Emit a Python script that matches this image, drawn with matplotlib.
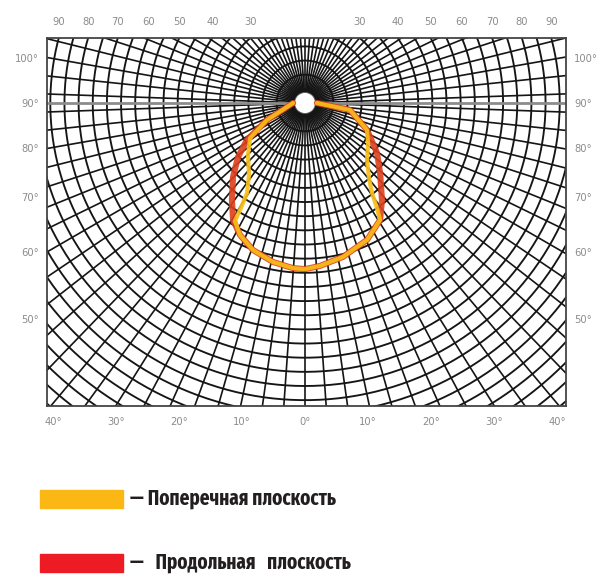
import numpy as np
import matplotlib.pyplot as plt
from matplotlib.patches import Circle, Rectangle

# grid of the diagram: rings (deg from the pole) and spokes (azimuth, deg)
ring_angles = np.arange(5, 150, 5)
spoke_angles = np.arange(0, 360, 4)

# vertical angle scale on the left/right edges
vert_labels = [100, 90, 80, 70, 60, 50]
# horizontal angle scale on the bottom edge
horiz_labels = [-40, -30, -20, -10, 0, 10, 20, 30, 40]
# ring values marked along the top edge
top_labels = [90, 80, 70, 60, 50, 40, 30]

# curves: azimuth from straight down (deg) and distance from the pole (deg)
red_az = [-90, -65.9, -57.5, -51.1, -44.2, -37.0, -31.6, -26.2, -19.5, -11.4, -4.2, 0,
          5.3, 13.9, 24.4, 32.7, 38.4, 47.0, 55.2, 66.5, 81.2, 90]
red_dist = [4.2, 14.7, 24.3, 30.4, 36.5, 42.9, 48.5, 52.0, 55.1, 57.3, 58.5, 58.7,
            57.8, 56.0, 53.1, 49.1, 43.8, 36.3, 31.0, 23.9, 16.1, 4.2]

orange_az = [-90, -65.9, -57.5, -47.6, -37.9, -32.8, -31.4, -30.7, -26.2, -19.5, -11.4, -4.2, 0,
             5.3, 13.9, 24.4, 32.7, 34.4, 36.7, 40.5, 47.4, 57.6, 66.5, 81.2, 90]
orange_dist = [4.2, 14.7, 23.0, 27.3, 32.2, 37.8, 43.5, 48.5, 52.0, 55.1, 57.3, 58.5, 58.7,
               57.8, 56.0, 53.1, 49.1, 45.0, 39.6, 34.8, 29.8, 26.4, 23.9, 16.1, 4.2]

legend_labels = ['— Поперечная плоскость', '—   Продольная   плоскость']
legend_colors = ['#fbb714', '#ed1c24']

PX = 2.83          # pixels per degree on the diagram
R_GNOM = 258 / PX  # distance for the vertical angle scale


def to_xy(az, dist):
    a = np.radians(az)
    d = np.asarray(dist)
    return d * np.sin(a), -d * np.cos(a)


def main():
    fig = plt.figure(figsize=(6.04, 5.74), dpi=100)
    ax = fig.add_axes([47 / 604, 1 - 406 / 574, 519 / 604, 368 / 574])
    ax.set_xlim(-258 / PX, 261 / PX)
    ax.set_ylim(-303 / PX, 65 / PX)

    t = np.linspace(0, 2 * np.pi, 600)
    for r in ring_angles:
        ax.plot(r * np.cos(t), r * np.sin(t), color='#151515', lw=1.35, zorder=1)
    for s in spoke_angles:
        x, y = to_xy(s, [0, 160])
        ax.plot(x, y, color='#151515', lw=1.2, zorder=1)
    ax.axhline(0, color='0.55', lw=2.0, zorder=1.5)

    ax.add_patch(Circle((0, 0), 3.7, facecolor='white', edgecolor='0.35', lw=0.6, zorder=2))

    x, y = to_xy(red_az, red_dist)
    ax.plot(x, y, color='#dc3f1c', lw=4.4, alpha=0.9, zorder=3, solid_capstyle='round')
    x, y = to_xy(orange_az, orange_dist)
    ax.plot(x, y, color='#f8be18', lw=3.0, alpha=0.92, zorder=4, solid_capstyle='round')

    for side in ax.spines.values():
        side.set_color('#444444')
        side.set_linewidth(1.3)
        side.set_zorder(5)

    lab = dict(color='#8c8c8c', fontsize=7.2, family='DejaVu Sans')
    ax.set_yticks([-R_GNOM * np.tan(np.radians(90 - v)) for v in vert_labels])
    ax.set_yticklabels([f'{v}°' for v in vert_labels], **lab)
    ax.tick_params(axis='y', length=0, pad=6, labelright=True)
    for tl in ax.get_yticklabels(which='both'):
        tl.set_color('#8c8c8c')

    ax.set_xticks([h * 6.3 / PX for h in horiz_labels])
    ax.set_xticklabels([f'{abs(h)}°' for h in horiz_labels], **lab)
    ax.tick_params(axis='x', length=0, pad=8)

    top = 65 / PX
    tpos = [-np.sqrt(v ** 2 - top ** 2) for v in top_labels] + \
           [np.sqrt(v ** 2 - top ** 2) for v in top_labels[::-1]]
    secax = ax.secondary_xaxis('top')
    secax.set_xticks(tpos)
    secax.set_xticklabels([str(v) for v in top_labels + top_labels[::-1]], **lab)
    secax.tick_params(length=0, pad=8)
    secax.spines['top'].set_visible(False)

    # legend drawn under the diagram
    leg = dict(fontsize=15, fontweight='bold', color='#231f20', va='baseline',
               family=['Fira Sans Extra Condensed', 'Roboto Condensed', 'DejaVu Sans'])
    for i, (text, col) in enumerate(zip(legend_labels, legend_colors)):
        top_px = 490 + i * 64
        fig.add_artist(Rectangle((40 / 604, 1 - (top_px + 18) / 574), 83 / 604, 18 / 574,
                                 transform=fig.transFigure, color=col))
        fig.text(130 / 604, 1 - (top_px + 15) / 574, text, **leg)

    fig.savefig('out.png', dpi=100)


if __name__ == '__main__':
    main()
